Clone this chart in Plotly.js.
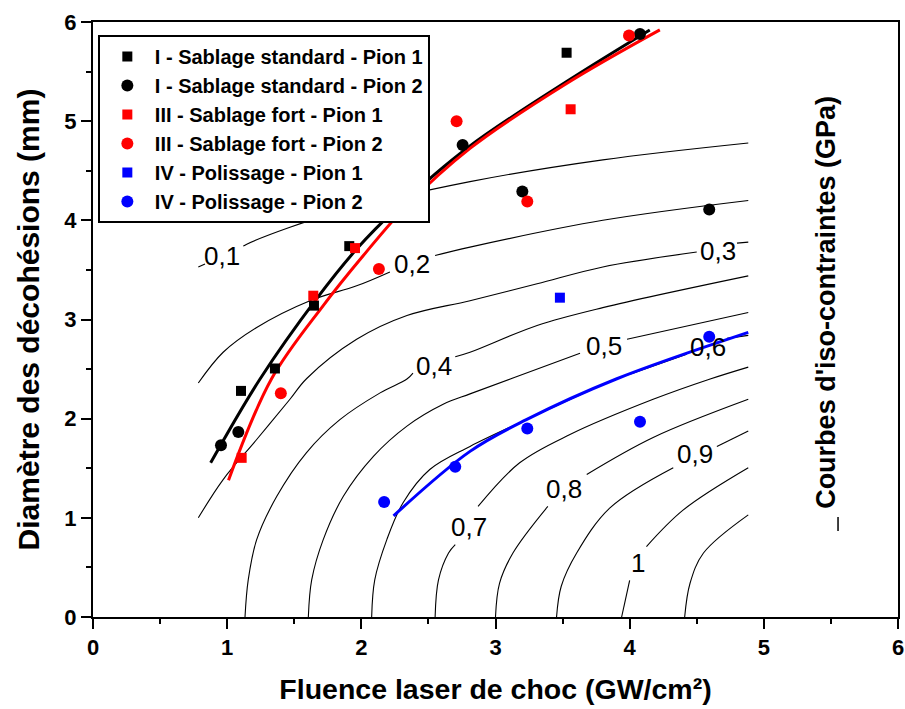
<!DOCTYPE html>
<html>
<head>
<meta charset="utf-8">
<script src="https://cdn.plot.ly/plotly-3.0.1.min.js"></script>
<style>html,body{margin:0;padding:0;background:#fff;}#chart{width:905px;height:709px;}</style>
</head>
<body>
<div id="chart"></div>
<script>
// ---- iso-stress contour lines (GPa) (null = gap for label)
const c01x = [0.785, 0.835, null, 1.12, 1.146, 1.468, 1.816, 2.81, 3.80, 4.884];
const c01y = [3.53, 3.56, null, 3.74, 3.76, 3.93, 4.08, 4.39, 4.61, 4.78];
const c02x = [0.785, 0.97, 1.22, 1.617, 1.965, 2.213, null, 2.55, 2.81, 3.80, 4.884];
const c02y = [2.36, 2.67, 2.92, 3.19, 3.34, 3.48, null, 3.645, 3.73, 4.00, 4.20];
const c03x = [0.785, 0.97, 1.22, 1.468, 1.593, 1.965, 2.34, 2.81, 3.31, 3.80, 4.50, null, 4.80, 4.884];
const c03y = [1.00, 1.386, 1.79, 2.196, 2.405, 2.80, 3.04, 3.19, 3.36, 3.53, 3.68, null, 3.77, 3.78];
const c04x = [1.133, 1.157, 1.22, 1.37, 1.59, 1.84, 2.14, 2.34, 2.385, null, 2.70, 2.81, 3.31, 3.80, 4.884];
const c04y = [0.00, 0.374, 0.78, 1.217, 1.656, 1.99, 2.26, 2.40, 2.46, null, 2.625, 2.67, 2.94, 3.12, 3.44];
const c05x = [1.605, 1.63, 1.716, 1.866, 2.09, 2.34, 2.61, 2.81, 3.13, 3.63, null, 3.98, 4.884];
const c05y = [0.00, 0.374, 0.78, 1.217, 1.62, 1.925, 2.145, 2.25, 2.41, 2.66, null, 2.80, 3.07];
const c06x = [2.077, 2.10, 2.19, 2.31, 2.51, 2.81, 3.23, 3.90, 4.05, 4.425, null, 4.725, 4.884];
const c06y = [0.00, 0.374, 0.78, 1.15, 1.487, 1.72, 1.99, 2.40, 2.47, 2.65, null, 2.81, 2.84];
const c07x = [2.55, 2.575, 2.65, 2.70, null, 2.87, 3.18, 3.555, 4.175, 4.60, 4.884];
const c07y = [0.00, 0.374, 0.645, 0.73, null, 1.115, 1.555, 1.84, 2.195, 2.40, 2.52];
const c08x = [3.00, 3.03, 3.13, 3.39, null, 3.68, 4.175, 4.884];
const c08y = [0.00, 0.34, 0.645, 1.115, null, 1.437, 1.81, 2.195];
const c09x = [3.455, 3.49, 3.605, 3.853, 4.325, null, 4.65, 4.884];
const c09y = [0.00, 0.31, 0.645, 1.10, 1.505, null, 1.72, 1.875];
const c10x = [3.94, 4.00, null, 4.125, 4.40, 4.884];
const c10y = [0.00, 0.37, null, 0.71, 1.08, 1.505];
const c11x = [4.41, 4.45, 4.55, 4.884];
const c11y = [0.00, 0.34, 0.645, 1.03];

// contour labels
const lblText = ["0,1", "0,2", "0,3", "0,4", "0,5", "0,6", "0,7", "0,8", "0,9", "1"];
const lblX = [0.965, 2.375, 4.655, 2.54, 3.81, 4.585, 2.80, 3.51, 4.485, 4.06];
const lblY = [3.64, 3.56, 3.69, 2.53, 2.73, 2.72, 0.91, 1.29, 1.64, 0.54];

// ---- fitted curves
const fitIx = [0.877, 1.245, 1.667, 1.965, 2.263, 2.80, 3.53, 4.15];
const fitIy = [1.555, 2.40, 3.21, 3.71, 4.12, 4.74, 5.40, 5.92];
const fitIIIx = [1.01, 1.33, 1.716, 2.015, 2.34, 2.81, 3.53, 4.225];
const fitIIIy = [1.38, 2.40, 3.14, 3.645, 4.15, 4.725, 5.38, 5.92];
const fitIVx = [2.24, 2.81, 3.23, 3.90, 4.884];
const fitIVy = [1.02, 1.67, 1.99, 2.40, 2.87];

// ---- measured points
const sI1x = [1.103, 1.356, 1.647, 1.91, 3.53];
const sI1y = [2.28, 2.506, 3.14, 3.74, 5.69];
const sI2x = [0.954, 1.083, 2.20, 2.755, 3.20, 4.077, 4.593];
const sI2y = [1.733, 1.865, 4.04, 4.76, 4.29, 5.88, 4.11];
const sIII1x = [1.108, 1.642, 1.953, 3.56];
const sIII1y = [1.605, 3.24, 3.72, 5.12];
const sIII2x = [1.40, 2.131, 2.71, 3.237, 3.995];
const sIII2y = [2.256, 3.51, 5.00, 4.19, 5.865];
const sIV1x = [3.48];
const sIV1y = [3.22];
const sIV2x = [2.17, 2.70, 3.237, 4.077, 4.593];
const sIV2y = [1.16, 1.515, 1.90, 1.97, 2.826];

const seriesNames = [
  "I - Sablage standard - Pion 1",
  "I - Sablage standard - Pion 2",
  "III - Sablage fort - Pion 1",
  "III - Sablage fort - Pion 2",
  "IV - Polissage - Pion 1",
  "IV - Polissage - Pion 2"
];

const FONT = "Liberation Sans, Arial, Helvetica, sans-serif";
const NARROW = "Liberation Sans Narrow, Arial Narrow, Liberation Sans, Arial, sans-serif";

const traces = [];
const contours = [[c01x,c01y],[c02x,c02y],[c03x,c03y],[c04x,c04y],[c05x,c05y],[c06x,c06y],[c07x,c07y],[c08x,c08y],[c09x,c09y],[c10x,c10y],[c11x,c11y]];
contours.forEach(c => traces.push({
  x: c[0], y: c[1], type: 'scatter', mode: 'lines', showlegend: false, hoverinfo: 'skip',
  connectgaps: false, line: {color: '#000', width: 1.1, shape: 'spline', smoothing: 1}
}));
[[fitIx, fitIy, '#000000'], [fitIIIx, fitIIIy, '#ff0000'], [fitIVx, fitIVy, '#0000ff']].forEach(f => traces.push({
  x: f[0], y: f[1], type: 'scatter', mode: 'lines', showlegend: false, hoverinfo: 'skip',
  line: {color: f[2], width: 3, shape: 'spline', smoothing: 1}
}));
const pts = [
  [sI1x, sI1y, '#000000', 'square'],
  [sI2x, sI2y, '#000000', 'circle'],
  [sIII1x, sIII1y, '#ff0000', 'square'],
  [sIII2x, sIII2y, '#ff0000', 'circle'],
  [sIV1x, sIV1y, '#0000ff', 'square'],
  [sIV2x, sIV2y, '#0000ff', 'circle']
];
pts.forEach((p, i) => traces.push({
  x: p[0], y: p[1], type: 'scatter', mode: 'markers', name: seriesNames[i],
  marker: {color: p[2], symbol: p[3], size: p[3] === 'square' ? 10 : 12, line: {width: 0}}
}));

const annotations = lblText.map((t, i) => ({
  x: lblX[i], y: lblY[i], xref: 'x', yref: 'y', text: t, showarrow: false,
  font: {family: FONT, size: 26, color: '#000'}
}));
annotations.push({
  xref: 'paper', yref: 'paper', x: 0.9106, y: 0.528, xanchor: 'center', yanchor: 'middle',
  text: "Courbes d'iso-contraintes (GPa)",
  textangle: -90, showarrow: false, font: {family: FONT, size: 27, color: '#000', weight: 'bold'}
});

const axisCommon = {
  range: [0, 6], dtick: 1, tick0: 0, showgrid: false, zeroline: false,
  showline: true, linewidth: 2, linecolor: '#000', mirror: true,
  ticks: 'outside', ticklen: 10, tickwidth: 2, tickcolor: '#000',
  minor: {ticks: 'outside', ticklen: 5, tickwidth: 2, tickcolor: '#000', dtick: 0.5},
  tickfont: {family: NARROW, size: 22, color: '#000', weight: 'bold'},
  fixedrange: true
};

const layout = {
  width: 905, height: 709,
  margin: {l: 93, r: 7, t: 22, b: 92},
  paper_bgcolor: '#fff', plot_bgcolor: '#fff',
  showlegend: true,
  legend: {
    x: 0.006, y: 0.978, xanchor: 'left', yanchor: 'top',
    bgcolor: '#fff', bordercolor: '#000', borderwidth: 2,
    itemwidth: 45,
    font: {family: FONT, size: 20, color: '#000', weight: 'bold'}
  },
  xaxis: Object.assign({}, axisCommon, {
    title: {text: 'Fluence laser de choc (GW/cm²)', standoff: 20,
      font: {family: FONT, size: 28.5, color: '#000', weight: 'bold'}}
  }),
  yaxis: Object.assign({}, axisCommon, {
    title: {text: 'Diamètre des décohésions (mm)', standoff: 16,
      font: {family: FONT, size: 30, color: '#000', weight: 'bold'}}
  }),
  annotations: annotations,
  shapes: [{
    type: 'line', xref: 'paper', yref: 'paper', x0: 0.9255, x1: 0.9255, y0: 0.1445, y1: 0.168,
    line: {color: '#000', width: 1.5}
  }]
};

Plotly.newPlot('chart', traces, layout, {staticPlot: true, displayModeBar: false});
</script>
</body>
</html>
